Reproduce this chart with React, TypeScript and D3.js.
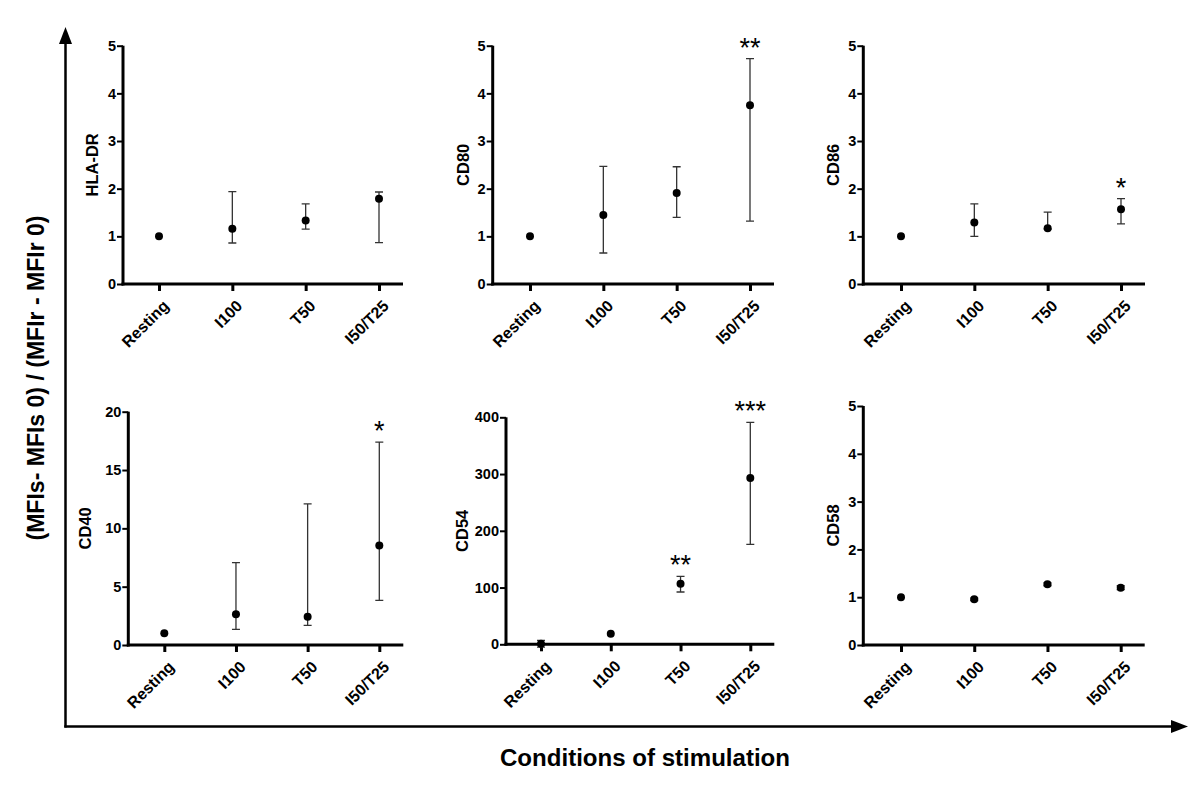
import { useEffect, useRef } from "react";
import * as d3 from "d3";

const categories = ["Resting", "I100", "T50", "I50/T25"];

const hlaDrMean = [1, 1.16, 1.33, 1.79];
const hlaDrLow = [1, 0.86, 1.15, 0.87];
const hlaDrHigh = [1, 1.94, 1.68, 1.93];
const hlaDrStars = ["", "", "", ""];

const cd80Mean = [1, 1.45, 1.91, 3.75];
const cd80Low = [1, 0.65, 1.4, 1.32];
const cd80High = [1, 2.47, 2.46, 4.73];
const cd80Stars = ["", "", "", "**"];

const cd86Mean = [1, 1.29, 1.17, 1.57];
const cd86Low = [1, 1.0, 1.15, 1.26];
const cd86High = [1, 1.68, 1.51, 1.79];
const cd86Stars = ["", "", "", "*"];

const cd40Mean = [1, 2.63, 2.43, 8.54];
const cd40Low = [1, 1.34, 1.69, 3.83];
const cd40High = [1, 7.06, 12.1, 17.4];
const cd40Stars = ["", "", "", "*"];

const cd54Mean = [1, 18.8, 106.9, 293];
const cd54Low = [-5, 18.8, 92.2, 176];
const cd54High = [7, 18.8, 119.8, 391];
const cd54Stars = ["", "", "**", "***"];

const cd58Mean = [1, 0.955, 1.27, 1.2];
const cd58Low = [1, 0.93, 1.24, 1.16];
const cd58High = [1, 0.98, 1.3, 1.24];
const cd58Stars = ["", "", "", ""];

const ticks5 = [0, 1, 2, 3, 4, 5];
const ticks20 = [0, 5, 10, 15, 20];
const ticks400 = [0, 100, 200, 300, 400];

const yTitle = "(MFIs- MFIs 0) / (MFIr - MFIr 0)";
const xTitle = "Conditions of stimulation";

const FONT = "'Liberation Sans', Arial, Helvetica, sans-serif";

// panel placement in the figure
const panels = [
  { name: "HLA-DR", mean: hlaDrMean, low: hlaDrLow, high: hlaDrHigh, stars: hlaDrStars, domain: [0, 5], ticks: ticks5,
    ax: 123, top: 45.7, bottom: 284, c0: 159, c3: 379, lx: 92 },
  { name: "CD80", mean: cd80Mean, low: cd80Low, high: cd80High, stars: cd80Stars, domain: [0, 5], ticks: ticks5,
    ax: 492.7, top: 45.7, bottom: 284, c0: 530, c3: 750, lx: 462.7 },
  { name: "CD86", mean: cd86Mean, low: cd86Low, high: cd86High, stars: cd86Stars, domain: [0, 5], ticks: ticks5,
    ax: 863.3, top: 45.7, bottom: 284, c0: 901, c3: 1121, lx: 833 },
  { name: "CD40", mean: cd40Mean, low: cd40Low, high: cd40High, stars: cd40Stars, domain: [0, 20], ticks: ticks20,
    ax: 128.3, top: 411.7, bottom: 645, c0: 164.3, c3: 379.3, lx: 85 },
  { name: "CD54", mean: cd54Mean, low: cd54Low, high: cd54High, stars: cd54Stars, domain: [0, 400], ticks: ticks400,
    ax: 506, top: 417.3, bottom: 644.3, c0: 541, c3: 750.3, lx: 461.7 },
  { name: "CD58", mean: cd58Mean, low: cd58Low, high: cd58High, stars: cd58Stars, domain: [0, 5], ticks: ticks5,
    ax: 863.3, top: 406, bottom: 645, c0: 901, c3: 1120.7, lx: 833 },
];

function drawPanel(svg: any, p: any) {
  const x = d3.scalePoint().domain(categories).range([p.c0, p.c3]);
  const y = d3.scaleLinear().domain(p.domain).range([p.bottom, p.top]);
  const g = svg.append("g");
  const axisEnd = p.c3 + 24;

  // y axis
  const yAxis = d3.axisLeft(y).tickValues(p.ticks).tickSize(6).tickPadding(1).tickFormat(d3.format("d"));
  const ya = g.append("g").attr("transform", `translate(${p.ax},0)`).call(yAxis);
  ya.select(".domain").attr("stroke-width", 3).attr("d", `M0,${p.top}V${p.bottom + 1.5}`);
  ya.selectAll(".tick line").attr("stroke-width", 2);
  ya.selectAll(".tick text").attr("font-family", FONT).attr("font-weight", "bold").attr("font-size", 14.5).attr("fill", "#000");

  // x axis
  const xAxis = d3.axisBottom(x).tickSize(7).tickFormat(() => "");
  const xa = g.append("g").attr("transform", `translate(0,${p.bottom})`).call(xAxis);
  xa.select(".domain").attr("stroke-width", 3).attr("d", `M${p.ax - 1.5},0H${axisEnd}`);
  xa.selectAll(".tick line").attr("stroke-width", 3);
  g.selectAll(".xlab")
    .data(categories)
    .join("text")
    .attr("transform", (d: string) => `translate(${(x(d) as number) + 3},${p.bottom + 15}) rotate(-45)`)
    .attr("text-anchor", "end")
    .attr("dy", "0.7em")
    .attr("font-family", FONT)
    .attr("font-weight", "bold")
    .attr("font-size", 16)
    .text((d: string) => d);

  // panel title
  g.append("text")
    .attr("transform", `translate(${p.lx + 6},${(p.top + p.bottom) / 2}) rotate(-90)`)
    .attr("text-anchor", "middle")
    .attr("font-family", FONT)
    .attr("font-weight", "bold")
    .attr("font-size", 16.5)
    .text(p.name);

  const rows = categories.map((c, i) => ({ c, m: p.mean[i], lo: p.low[i], hi: p.high[i], s: p.stars[i] }));
  const withErr = rows.filter((r) => r.hi > r.lo);

  g.selectAll(".err")
    .data(withErr)
    .join("path")
    .attr("fill", "none")
    .attr("stroke", "#333")
    .attr("stroke-width", 1.3)
    .attr("d", (r: any) => {
      const cx = x(r.c) as number;
      const y1 = y(r.hi), y0 = y(r.lo);
      return `M${cx - 4},${y1}H${cx + 4}M${cx},${y1}V${y0}M${cx - 4},${y0}H${cx + 4}`;
    });

  g.selectAll(".dot")
    .data(rows)
    .join("circle")
    .attr("cx", (r: any) => x(r.c) as number)
    .attr("cy", (r: any) => y(r.m))
    .attr("r", 4)
    .attr("fill", "#000");

  g.selectAll(".star")
    .data(rows.filter((r) => r.s))
    .join("text")
    .attr("x", (r: any) => x(r.c) as number)
    .attr("y", (r: any) => y(r.hi) - 2)
    .attr("text-anchor", "middle")
    .attr("font-family", FONT)
    .attr("font-size", 27)
    .text((r: any) => r.s);
}

export default function App() {
  const svgRef = useRef<SVGSVGElement | null>(null);

  useEffect(() => {
    const svg = d3.select(svgRef.current);
    svg.selectAll("*").remove();

    svg.append("rect").attr("width", 1200).attr("height", 790).attr("fill", "#fff");

    // big outer arrows
    svg.append("line").attr("x1", 65.5).attr("y1", 42).attr("x2", 65.5).attr("y2", 727.5)
      .attr("stroke", "#000").attr("stroke-width", 2.5);
    svg.append("path").attr("d", "M65.5,27L59,44H72Z").attr("fill", "#000");
    svg.append("line").attr("x1", 64.3).attr("y1", 726.5).attr("x2", 1173).attr("y2", 726.5)
      .attr("stroke", "#000").attr("stroke-width", 2.5);
    svg.append("path").attr("d", "M1188,726.5L1171,720V733Z").attr("fill", "#000");

    svg.append("text")
      .attr("transform", `translate(44,378) rotate(-90)`)
      .attr("text-anchor", "middle")
      .attr("font-family", FONT)
      .attr("font-weight", "bold")
      .attr("font-size", 23)
      .attr("textLength", 325)
      .attr("lengthAdjust", "spacingAndGlyphs")
      .text(yTitle);

    svg.append("text")
      .attr("x", 645)
      .attr("y", 766)
      .attr("text-anchor", "middle")
      .attr("font-family", FONT)
      .attr("font-weight", "bold")
      .attr("font-size", 23)
      .attr("textLength", 290)
      .attr("lengthAdjust", "spacingAndGlyphs")
      .text(xTitle);

    panels.forEach((p) => drawPanel(svg, p));
  }, []);

  return (
    <svg
      ref={svgRef}
      width={1200}
      height={790}
      style={{ position: "absolute", left: 0, top: 0, display: "block" }}
    />
  );
}
